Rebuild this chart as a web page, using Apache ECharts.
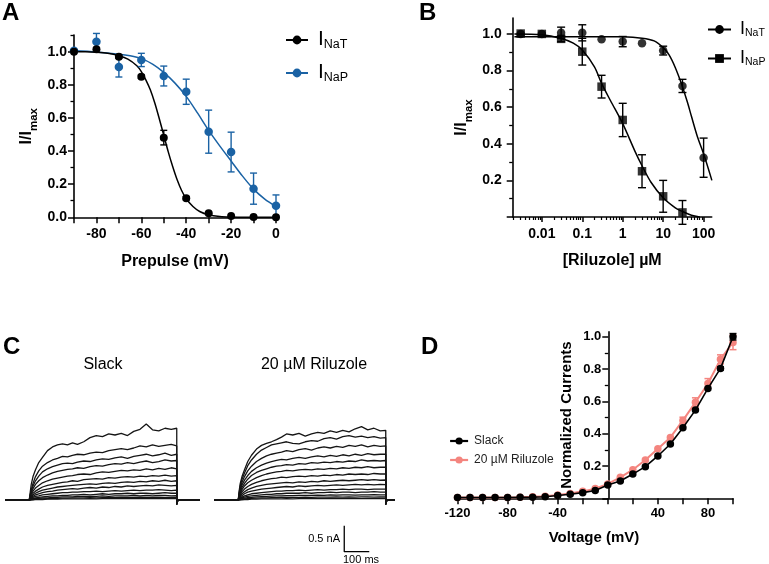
<!DOCTYPE html>
<html><head><meta charset="utf-8">
<script src="https://cdn.jsdelivr.net/npm/echarts@6/dist/echarts.min.js"></script>
<style>html,body{margin:0;padding:0;background:#fff}#c{width:769px;height:564px}</style>
</head><body><div id="c"></div>
<script>
// ---------- Panel A: steady-state inactivation ----------
const aVolt = [-90,-80,-70,-60,-50,-40,-30,-20,-10,0];
const aNaT = [1.0,1.014,0.97,0.849,0.481,0.115,0.024,0.008,0.002,0.0];
const aNaTErr = [0,0,0.01,0.01,0.044,0.01,0.005,0,0,0];
const aNaP = [1.005,1.06,0.907,0.95,0.853,0.758,0.517,0.394,0.173,0.07];
const aNaPErr = [0,0.05,0.06,0.04,0.06,0.076,0.13,0.12,0.094,0.065];
const aFitNaTV = [-90,-85,-80,-75,-70,-66,-62,-60,-58,-56,-54,-52,-50,-48,-46,-44,-42,-40,-37,-34,-30,-25,-20,-10,0];
const aFitNaT  = [1.0,1.0,0.997,0.99,0.975,0.955,0.915,0.88,0.83,0.77,0.69,0.595,0.495,0.395,0.305,0.225,0.16,0.112,0.065,0.035,0.015,0.005,0.002,0,0];
const aFitNaPV = [-90,-80,-70,-65,-60,-55,-50,-45,-40,-35,-30,-25,-20,-15,-10,-5,0];
const aFitNaP  = [1.005,0.998,0.985,0.975,0.958,0.925,0.875,0.81,0.73,0.63,0.525,0.43,0.34,0.25,0.17,0.11,0.065];

// ---------- Panel B: riluzole dose response ----------
const bConcNaT = [0.003,0.01,0.03,0.1,0.3,1,3,10,30,100];
const bNaT = [1.0,1.0,1.007,1.006,0.971,0.958,0.949,0.909,0.716,0.324];
const bNaTErr = [0,0,0.03,0.044,0,0.028,0,0.024,0.036,0.107];
const bConcNaP = [0.003,0.01,0.03,0.1,0.3,1,3,10,30];
const bNaP = [1.002,1.0,0.973,0.903,0.712,0.53,0.25,0.113,0.025];
const bNaPErr = [0,0,0.015,0.073,0.062,0.091,0.09,0.087,0.065];
const bFitNaTConc = [0.0021,0.01,0.1,1,3,6,10,14,20,30,40,50,70,100,160];
const bFitNaT     = [0.985,0.985,0.985,0.984,0.977,0.962,0.925,0.885,0.815,0.712,0.625,0.55,0.44,0.345,0.2];
const bFitNaPConc = [0.0021,0.01,0.03,0.06,0.1,0.2,0.3,0.5,1,2,3,5,10,20,30,50,80];
const bFitNaP     = [1.0,0.995,0.975,0.95,0.912,0.82,0.73,0.635,0.51,0.36,0.28,0.19,0.105,0.05,0.03,0.01,0.0];
const bTickLabels = ['0.01','0.1','1','10','100'];

// ---------- Panel C: current traces (time in ms, current in nA) ----------
const traceTime = [97,100,105,112,122,135,150,170,190,210,230,250,270,290,315,340,365,390,415,440,465,490,515,540,565,590,615,640,665,687];
const slackTraces = [
 [0,0.12,0.3,0.45,0.58,0.72,0.82,0.95,1.02,1.06,1.08,1.06,1.1,1.07,1.12,1.2,1.24,1.22,1.27,1.25,1.28,1.24,1.32,1.36,1.46,1.35,1.33,1.38,1.36,1.38],
 [0,0.08,0.2,0.32,0.45,0.56,0.65,0.72,0.77,0.8,0.84,0.83,0.86,0.88,0.87,0.9,0.92,0.91,0.95,0.97,0.99,0.97,1.0,1.04,1.02,1.06,1.03,1.05,1.07,1.04],
 [0,0.07,0.17,0.27,0.37,0.46,0.54,0.6,0.64,0.67,0.7,0.71,0.7,0.73,0.75,0.74,0.77,0.79,0.78,0.81,0.83,0.8,0.84,0.86,0.88,0.85,0.87,0.9,0.86,0.88],
 [0,0.06,0.14,0.22,0.3,0.37,0.43,0.48,0.52,0.55,0.57,0.59,0.6,0.62,0.61,0.64,0.66,0.65,0.68,0.7,0.69,0.72,0.7,0.73,0.75,0.72,0.74,0.77,0.75,0.76],
 [0,0.05,0.11,0.17,0.23,0.28,0.33,0.37,0.4,0.42,0.44,0.46,0.47,0.49,0.5,0.49,0.52,0.54,0.53,0.55,0.57,0.56,0.58,0.57,0.6,0.58,0.61,0.59,0.62,0.6],
 [0,0.04,0.08,0.13,0.17,0.21,0.25,0.28,0.3,0.32,0.34,0.35,0.37,0.36,0.39,0.4,0.41,0.4,0.43,0.42,0.44,0.45,0.44,0.46,0.45,0.47,0.46,0.48,0.46,0.47],
 [0,0.03,0.06,0.1,0.13,0.16,0.19,0.21,0.23,0.25,0.26,0.27,0.28,0.29,0.3,0.31,0.3,0.32,0.33,0.32,0.34,0.35,0.34,0.36,0.35,0.37,0.36,0.38,0.36,0.37],
 [0,0.02,0.05,0.07,0.1,0.12,0.14,0.16,0.17,0.19,0.2,0.21,0.22,0.21,0.23,0.24,0.23,0.25,0.24,0.26,0.25,0.27,0.26,0.27,0.28,0.27,0.29,0.28,0.27,0.28],
 [0,0.02,0.03,0.05,0.07,0.08,0.1,0.11,0.12,0.13,0.14,0.14,0.15,0.15,0.16,0.16,0.17,0.16,0.17,0.18,0.17,0.18,0.19,0.18,0.19,0.19,0.2,0.19,0.18,0.19],
 [0,0.01,0.02,0.03,0.04,0.05,0.06,0.07,0.08,0.08,0.09,0.09,0.1,0.1,0.11,0.1,0.11,0.12,0.11,0.12,0.12,0.13,0.12,0.13,0.13,0.12,0.13,0.14,0.13,0.13],
 [0,0.01,0.01,0.02,0.03,0.03,0.04,0.04,0.05,0.05,0.06,0.06,0.06,0.07,0.07,0.07,0.07,0.08,0.07,0.08,0.08,0.08,0.09,0.08,0.09,0.08,0.09,0.09,0.08,0.085],
 [0,0,0.01,0.01,0.015,0.02,0.02,0.025,0.03,0.03,0.035,0.035,0.04,0.04,0.04,0.045,0.04,0.045,0.05,0.045,0.05,0.05,0.05,0.055,0.05,0.05,0.055,0.05,0.05,0.05],
 [0,0,0,0.005,0.01,0.01,0.01,0.015,0.015,0.015,0.02,0.02,0.02,0.02,0.02,0.025,0.02,0.025,0.025,0.025,0.025,0.03,0.025,0.025,0.03,0.025,0.03,0.025,0.025,0.025]
];
const riluzoleTraces = [
 [0,0.15,0.32,0.45,0.58,0.74,0.86,0.98,1.05,1.09,1.12,1.16,1.21,1.27,1.25,1.28,1.23,1.27,1.3,1.28,1.33,1.3,1.34,1.31,1.37,1.41,1.35,1.38,1.33,1.34],
 [0,0.12,0.27,0.4,0.52,0.66,0.77,0.88,0.96,1.01,1.06,1.08,1.1,1.12,1.09,1.08,1.12,1.14,1.13,1.18,1.2,1.17,1.22,1.24,1.21,1.23,1.2,1.22,1.19,1.2],
 [0,0.1,0.22,0.34,0.45,0.56,0.65,0.74,0.8,0.85,0.88,0.9,0.92,0.95,0.93,0.97,0.99,0.96,1.0,1.02,1.0,1.03,1.01,1.05,1.03,1.06,1.02,1.05,1.03,1.04],
 [0,0.08,0.19,0.29,0.38,0.47,0.55,0.62,0.67,0.71,0.74,0.76,0.78,0.77,0.8,0.82,0.8,0.83,0.85,0.83,0.86,0.84,0.87,0.85,0.88,0.86,0.89,0.87,0.88,0.88],
 [0,0.07,0.16,0.24,0.32,0.4,0.47,0.53,0.57,0.6,0.63,0.65,0.66,0.68,0.67,0.7,0.69,0.72,0.71,0.73,0.72,0.74,0.73,0.75,0.74,0.77,0.75,0.76,0.75,0.76],
 [0,0.06,0.13,0.2,0.27,0.33,0.38,0.43,0.47,0.5,0.52,0.54,0.55,0.57,0.56,0.58,0.59,0.58,0.6,0.59,0.61,0.6,0.62,0.61,0.63,0.62,0.64,0.62,0.63,0.63],
 [0,0.05,0.1,0.16,0.21,0.26,0.3,0.34,0.37,0.39,0.41,0.42,0.44,0.43,0.45,0.46,0.45,0.47,0.46,0.48,0.47,0.49,0.48,0.5,0.49,0.5,0.49,0.51,0.5,0.5],
 [0,0.04,0.08,0.12,0.16,0.2,0.23,0.26,0.28,0.3,0.31,0.32,0.33,0.34,0.33,0.35,0.34,0.36,0.35,0.37,0.36,0.37,0.38,0.37,0.38,0.39,0.38,0.39,0.38,0.385],
 [0,0.03,0.06,0.09,0.12,0.15,0.17,0.19,0.21,0.22,0.23,0.24,0.25,0.26,0.25,0.27,0.26,0.27,0.28,0.27,0.28,0.29,0.28,0.29,0.3,0.29,0.3,0.29,0.3,0.295],
 [0,0.02,0.04,0.06,0.08,0.1,0.12,0.13,0.14,0.15,0.16,0.17,0.17,0.18,0.18,0.19,0.18,0.19,0.2,0.19,0.2,0.2,0.21,0.2,0.21,0.21,0.2,0.21,0.21,0.21],
 [0,0.015,0.03,0.04,0.055,0.07,0.08,0.09,0.1,0.11,0.11,0.12,0.12,0.13,0.13,0.13,0.14,0.13,0.14,0.14,0.15,0.14,0.15,0.15,0.14,0.15,0.15,0.16,0.15,0.15],
 [0,0.01,0.02,0.03,0.035,0.045,0.05,0.06,0.065,0.07,0.075,0.08,0.08,0.085,0.085,0.09,0.09,0.09,0.095,0.09,0.1,0.095,0.1,0.1,0.095,0.1,0.1,0.105,0.1,0.1],
 [0,0.005,0.01,0.015,0.02,0.025,0.03,0.035,0.04,0.04,0.045,0.045,0.05,0.05,0.05,0.05,0.055,0.05,0.055,0.055,0.055,0.06,0.055,0.06,0.055,0.06,0.06,0.055,0.06,0.058],
 [0,0,0.005,0.005,0.01,0.01,0.015,0.015,0.02,0.02,0.02,0.02,0.02,0.025,0.02,0.025,0.025,0.025,0.025,0.025,0.03,0.025,0.025,0.03,0.025,0.025,0.03,0.025,0.025,0.026]
];
const scaleBarCurrent = 0.5;   // nA
const scaleBarTime = 100;      // ms

// ---------- Panel D: I-V ----------
const dVolt = [-120,-110,-100,-90,-80,-70,-60,-50,-40,-30,-20,-10,0,10,20,30,40,50,60,70,80,90,100];
const dSlack = [0.005,0.005,0.005,0.005,0.005,0.006,0.007,0.01,0.017,0.025,0.035,0.048,0.082,0.107,0.15,0.196,0.262,0.336,0.437,0.546,0.68,0.804,1.0];
const dSlackErr = [0,0,0,0,0,0,0,0,0,0,0,0,0,0,0,0,0,0,0,0,0,0.01,0.02];
const dRil = [0.005,0.005,0.005,0.005,0.005,0.006,0.009,0.013,0.021,0.03,0.043,0.06,0.089,0.13,0.177,0.237,0.307,0.377,0.482,0.594,0.711,0.86,0.965];
const dRilErr = [0,0,0,0,0,0,0,0,0,0,0,0,0,0,0,0,0,0,0.02,0.028,0.03,0.028,0.045];
const dXTickLabels = [-120,-80,-40,40,80];

// ---------- build ----------
const FONT = '"Liberation Sans", Arial, Helvetica, sans-serif';
const BLUE = '#1a62a4';
const PINK = '#f4857f';
const lg = Math.log10;

function errBar(color, cap, width){
  return function(params, api){
    const x = api.value(0), y = api.value(1), e = api.value(2);
    const p1 = api.coord([x, y + e]), p2 = api.coord([x, y - e]);
    const st = {stroke: color, lineWidth: width};
    return {type:'group', children:[
      {type:'line', shape:{x1:p1[0],y1:p1[1],x2:p2[0],y2:p2[1]}, style:st},
      {type:'line', shape:{x1:p1[0]-cap,y1:p1[1],x2:p1[0]+cap,y2:p1[1]}, style:st},
      {type:'line', shape:{x1:p2[0]-cap,y1:p2[1],x2:p2[0]+cap,y2:p2[1]}, style:st}
    ]};
  };
}
function errData(xs, ys, es, fx){ const out=[]; xs.forEach((x,i)=>{ if(es[i]>0) out.push([fx?fx(x):x, ys[i], es[i]]); }); return out; }

const axLine = {show:true, onZero:false, lineStyle:{color:'#000', width:1.6}};
const lbl = (size) => ({color:'#000', fontFamily:FONT, fontWeight:'bold', fontSize:size});
const nameStyle = (size) => ({color:'#000', fontFamily:FONT, fontWeight:'bold', fontSize:size});
function range(a,b,s){ const r=[]; for(let v=a; v<=b+1e-9; v+=s) r.push(Math.round(v*1000)/1000); return r; }

const bMinor = [];
for (let k=-3;k<=2;k++) for (let m=2;m<=9;m++){ const v = k + lg(m); if (v>-2.72 && v<2.2) bMinor.push(v); }

const xAxis = [
  {gridIndex:0, type:'value', min:-90, max:0, interval:10, axisLine:axLine,
   axisTick:{length:6, lineStyle:{width:1.5,color:'#000'}}, splitLine:{show:false},
   axisLabel:Object.assign({margin:10, formatter:v=> (v%20===0 ? String(v) : '')}, lbl(14)),
   name:'Prepulse (mV)', nameLocation:'middle', nameGap:36, nameTextStyle:nameStyle(16)},
  {gridIndex:1, type:'value', min:-2.72, max:2.2, axisLine:axLine, splitLine:{show:false},
   axisTick:{customValues:[-2,-1,0,1,2], length:5, lineStyle:{width:1.5,color:'#000'}},
   axisLabel:Object.assign({customValues:[-2,-1,0,1,2], margin:10, formatter:v=>bTickLabels[Math.round(v)+2]}, lbl(14)),
   name:'[Riluzole] µM', nameLocation:'middle', nameGap:36, nameTextStyle:nameStyle(16)},
  {gridIndex:1, type:'value', position:'bottom', min:-2.72, max:2.2, axisLine:{show:false}, splitLine:{show:false},
   axisTick:{customValues:bMinor, length:3, lineStyle:{width:1.2,color:'#000'}}, axisLabel:{show:false}},
  {gridIndex:2, type:'value', min:0, max:780, show:false},
  {gridIndex:3, type:'value', min:0, max:724, show:false},
  {gridIndex:4, type:'value', min:-122, max:100, axisLine:axLine, splitLine:{show:false},
   axisTick:{customValues:range(-120,100,20), length:6, lineStyle:{width:1.5,color:'#000'}},
   axisLabel:Object.assign({customValues:dXTickLabels, margin:9}, lbl(13)),
   name:'Voltage (mV)', nameLocation:'middle', nameGap:32, nameTextStyle:nameStyle(15)}
];

const yMajor = (gi, max, labels, name, gap, margin, offset, fs) => ({
  gridIndex:gi, type:'value', position:'left', offset:offset, min:0, max:max, axisLine:axLine, splitLine:{show:false},
  axisTick:{customValues:range(0,1,0.2), length:6, lineStyle:{width:1.5,color:'#000'}},
  axisLabel:Object.assign({customValues:labels, margin:margin, formatter:v=>v.toFixed(1)}, lbl(fs)),
  name:name, nameLocation:'middle', nameRotate:90, nameGap:gap,
  nameTextStyle:Object.assign({rich:{
    a:{fontFamily:FONT, fontWeight:'bold', fontSize:16, color:'#000', verticalAlign:'bottom', padding:[0,0,5,0]},
    b:{fontFamily:FONT, fontWeight:'bold', fontSize:11.5, color:'#000', verticalAlign:'bottom'}}}, nameStyle(15))
});
const yMinor = (gi, max, ticks, offset) => ({
  gridIndex:gi, type:'value', position:'left', offset:offset, min:0, max:max, axisLine:{show:false, onZero:false}, splitLine:{show:false},
  axisTick:{customValues:ticks, length:3.5, lineStyle:{width:1.3,color:'#000'}}, axisLabel:{show:false}
});

const dOffset = -(608.3 - 455);
const yAxis = [
  yMajor(0, 1.1, range(0,1,0.2), '{a|I/I}{b|max}', 34, 7, 0, 14),
  yMinor(0, 1.1, [0.1,0.3,0.5,0.7,0.9,1.1], 0),
  yMajor(1, 1.087, range(0.2,1,0.2), '{a|I/I}{b|max}', 38, 11, 0, 14),
  yMinor(1, 1.087, [0.1,0.3,0.5,0.7,0.9], 0),
  {gridIndex:2, type:'value', min:-1.1, max:1.5, show:false},
  {gridIndex:3, type:'value', min:-1.1, max:1.5, show:false},
  yMajor(4, 1.03, range(0.2,1,0.2), 'Normalized Currents', 34, 7, dOffset, 13),
  yMinor(4, 1.03, [0.1,0.3,0.5,0.7,0.9], dOffset)
];

const series = [];
// Panel A
series.push({name:'A_NaP', type:'line', xAxisIndex:0, yAxisIndex:0, data:aFitNaPV.map((v,i)=>[v,aFitNaP[i]]),
  smooth:0.3, symbol:'circle', showSymbol:false, lineStyle:{color:BLUE,width:1.5}, itemStyle:{color:BLUE}, z:2});
series.push({name:'A_NaT', type:'line', xAxisIndex:0, yAxisIndex:0, data:aFitNaTV.map((v,i)=>[v,aFitNaT[i]]),
  smooth:0.3, symbol:'circle', showSymbol:false, lineStyle:{color:'#000',width:1.5}, itemStyle:{color:'#000'}, z:3});
series.push({type:'custom', xAxisIndex:0, yAxisIndex:0, renderItem:errBar(BLUE,3.5,1.4), data:errData(aVolt,aNaP,aNaPErr), z:4});
series.push({type:'scatter', xAxisIndex:0, yAxisIndex:0, data:aVolt.map((v,i)=>[v,aNaP[i]]), symbolSize:8.5, itemStyle:{color:BLUE, opacity:1}, z:5});
series.push({type:'custom', xAxisIndex:0, yAxisIndex:0, renderItem:errBar('#000',3.5,1.4), data:errData(aVolt,aNaT,aNaTErr), z:6});
series.push({type:'scatter', xAxisIndex:0, yAxisIndex:0, data:aVolt.map((v,i)=>[v,aNaT[i]]), symbolSize:8, itemStyle:{color:'#000', opacity:1}, z:7});
// Panel B
series.push({name:'B_NaT', type:'line', xAxisIndex:1, yAxisIndex:2, data:bFitNaTConc.map((c,i)=>[lg(c),bFitNaT[i]]),
  smooth:0.3, symbol:'circle', showSymbol:false, lineStyle:{color:'#000',width:1.5}, itemStyle:{color:'#000'}});
series.push({name:'B_NaP', type:'line', xAxisIndex:1, yAxisIndex:2, data:bFitNaPConc.map((c,i)=>[lg(c),bFitNaP[i]]),
  smooth:0.3, symbol:'rect', showSymbol:false, lineStyle:{color:'#000',width:1.5}, itemStyle:{color:'#000'}});
series.push({type:'custom', xAxisIndex:1, yAxisIndex:2, renderItem:errBar('#000',4,1.4), data:errData(bConcNaT,bNaT,bNaTErr,lg), z:4});
series.push({type:'custom', xAxisIndex:1, yAxisIndex:2, renderItem:errBar('#000',4,1.4), data:errData(bConcNaP,bNaP,bNaPErr,lg), z:4});
series.push({type:'scatter', xAxisIndex:1, yAxisIndex:2, data:bConcNaT.map((c,i)=>[lg(c),bNaT[i]]), symbol:'circle', symbolSize:8.5, itemStyle:{color:'#000'}, z:5});
series.push({type:'scatter', xAxisIndex:1, yAxisIndex:2, data:bConcNaP.map((c,i)=>[lg(c),bNaP[i]]), symbol:'rect', symbolSize:8.5, itemStyle:{color:'#000'}, z:5});
// Panel C
function traceSeries(tr, xi, yi, tEnd){
  const d = [[0,0],[traceTime[0],0]];
  traceTime.forEach((t,i)=>{ d.push([t, tr[i] !== undefined ? tr[i] : tr[tr.length-1]]); });
  d.push([traceTime[traceTime.length-1], -0.08]); d.push([traceTime[traceTime.length-1]+4, 0]); d.push([tEnd,0]);
  return {type:'line', xAxisIndex:xi, yAxisIndex:yi, data:d, symbol:'none', lineStyle:{color:'#151515', width:1.3}, silent:true};
}
slackTraces.forEach(tr=>series.push(traceSeries(tr,3,4,780)));
riluzoleTraces.forEach(tr=>series.push(traceSeries(tr,4,5,724)));
const sbT0 = 521, sbY0 = -0.994;
series.push({type:'line', xAxisIndex:4, yAxisIndex:5, symbol:'none', lineStyle:{color:'#000', width:1.3},
  data:[[sbT0, sbY0+scaleBarCurrent],[sbT0, sbY0],[sbT0+scaleBarTime, sbY0]]});
// Panel D
series.push({name:'20 µM Riluzole', type:'line', xAxisIndex:5, yAxisIndex:6, data:dVolt.map((v,i)=>[v,dRil[i]]),
  symbol:'circle', symbolSize:7.5, lineStyle:{color:PINK,width:2}, itemStyle:{color:PINK}, z:2});
series.push({type:'custom', xAxisIndex:5, yAxisIndex:6, renderItem:errBar(PINK,3.5,1.5), data:errData(dVolt,dRil,dRilErr), z:2});
series.push({name:'Slack', type:'line', xAxisIndex:5, yAxisIndex:6, data:dVolt.map((v,i)=>[v,dSlack[i]]),
  symbol:'circle', symbolSize:7.5, lineStyle:{color:'#000',width:1.6}, itemStyle:{color:'#000'}, z:4});
series.push({type:'custom', xAxisIndex:5, yAxisIndex:6, renderItem:errBar('#000',3.5,1.4), data:errData(dVolt,dSlack,dSlackErr), z:4});

const subs = {A_NaT:'NaT', A_NaP:'NaP', B_NaT:'NaT', B_NaP:'NaP'};
const legend = [
  {data:['A_NaT','A_NaP'], orient:'vertical', left:285, top:29, padding:0, itemWidth:22, itemHeight:11, itemGap:11,
   lineStyle:{width:2}, formatter:n=>'{i|I}{s|'+subs[n]+'}', selectedMode:false,
   textStyle:{rich:{i:{fontFamily:FONT,fontSize:21,color:'#000',verticalAlign:'bottom',padding:[0,0,1,5]},
                    s:{fontFamily:FONT,fontSize:12.5,color:'#000',verticalAlign:'bottom'}}}},
  {data:['B_NaT','B_NaP'], orient:'vertical', left:707, top:20, padding:0, itemWidth:23, itemHeight:11, itemGap:10,
   lineStyle:{width:2}, formatter:n=>'{i|I}{s|'+subs[n]+'}', selectedMode:false,
   textStyle:{rich:{i:{fontFamily:FONT,fontSize:18,color:'#000',verticalAlign:'bottom',padding:[0,0,1,4]},
                    s:{fontFamily:FONT,fontSize:10.5,color:'#000',verticalAlign:'bottom'}}}},
  {data:['Slack','20 µM Riluzole'], orient:'vertical', left:449, top:435, padding:0, itemWidth:18, itemHeight:9, itemGap:7,
   lineStyle:{width:2.2}, selectedMode:false, textStyle:{fontFamily:FONT, fontSize:12, color:'#222', padding:[0,0,0,1]}}
];

const txt = (x,y,text,size,weight,align) => ({type:'text', x:x, y:y, silent:true,
  style:{text:text, font:(weight||'normal')+' '+size+'px '+FONT, fill:'#000', align:align||'left', verticalAlign:'middle'}});
const graphic = [
  txt(2,13,'A',24,'bold'), txt(419,13,'B',24,'bold'),
  txt(3,347,'C',24,'bold'), txt(421,347,'D',24,'bold'),
  txt(103,365,'Slack',16,'normal','center'), txt(314,365,'20 µM Riluzole',16,'normal','center'),
  txt(340,539,'0.5 nA',11,'normal','right'), txt(343,560,'100 ms',11,'normal','left')
];

const chart = echarts.init(document.getElementById('c'), null, {renderer:'canvas'});
chart.setOption({
  animation:false, backgroundColor:'#fff',
  grid:[
    {left:74, top:35.1, width:202, height:182.2},
    {left:512.7, top:18, width:199, height:199},
    {left:5, top:422, width:195, height:135.2},
    {left:214, top:422, width:181, height:135.2},
    {left:455, top:331.9, width:278, height:166.4}
  ],
  xAxis:xAxis, yAxis:yAxis, series:series, legend:legend, graphic:graphic
});
</script></body></html>
